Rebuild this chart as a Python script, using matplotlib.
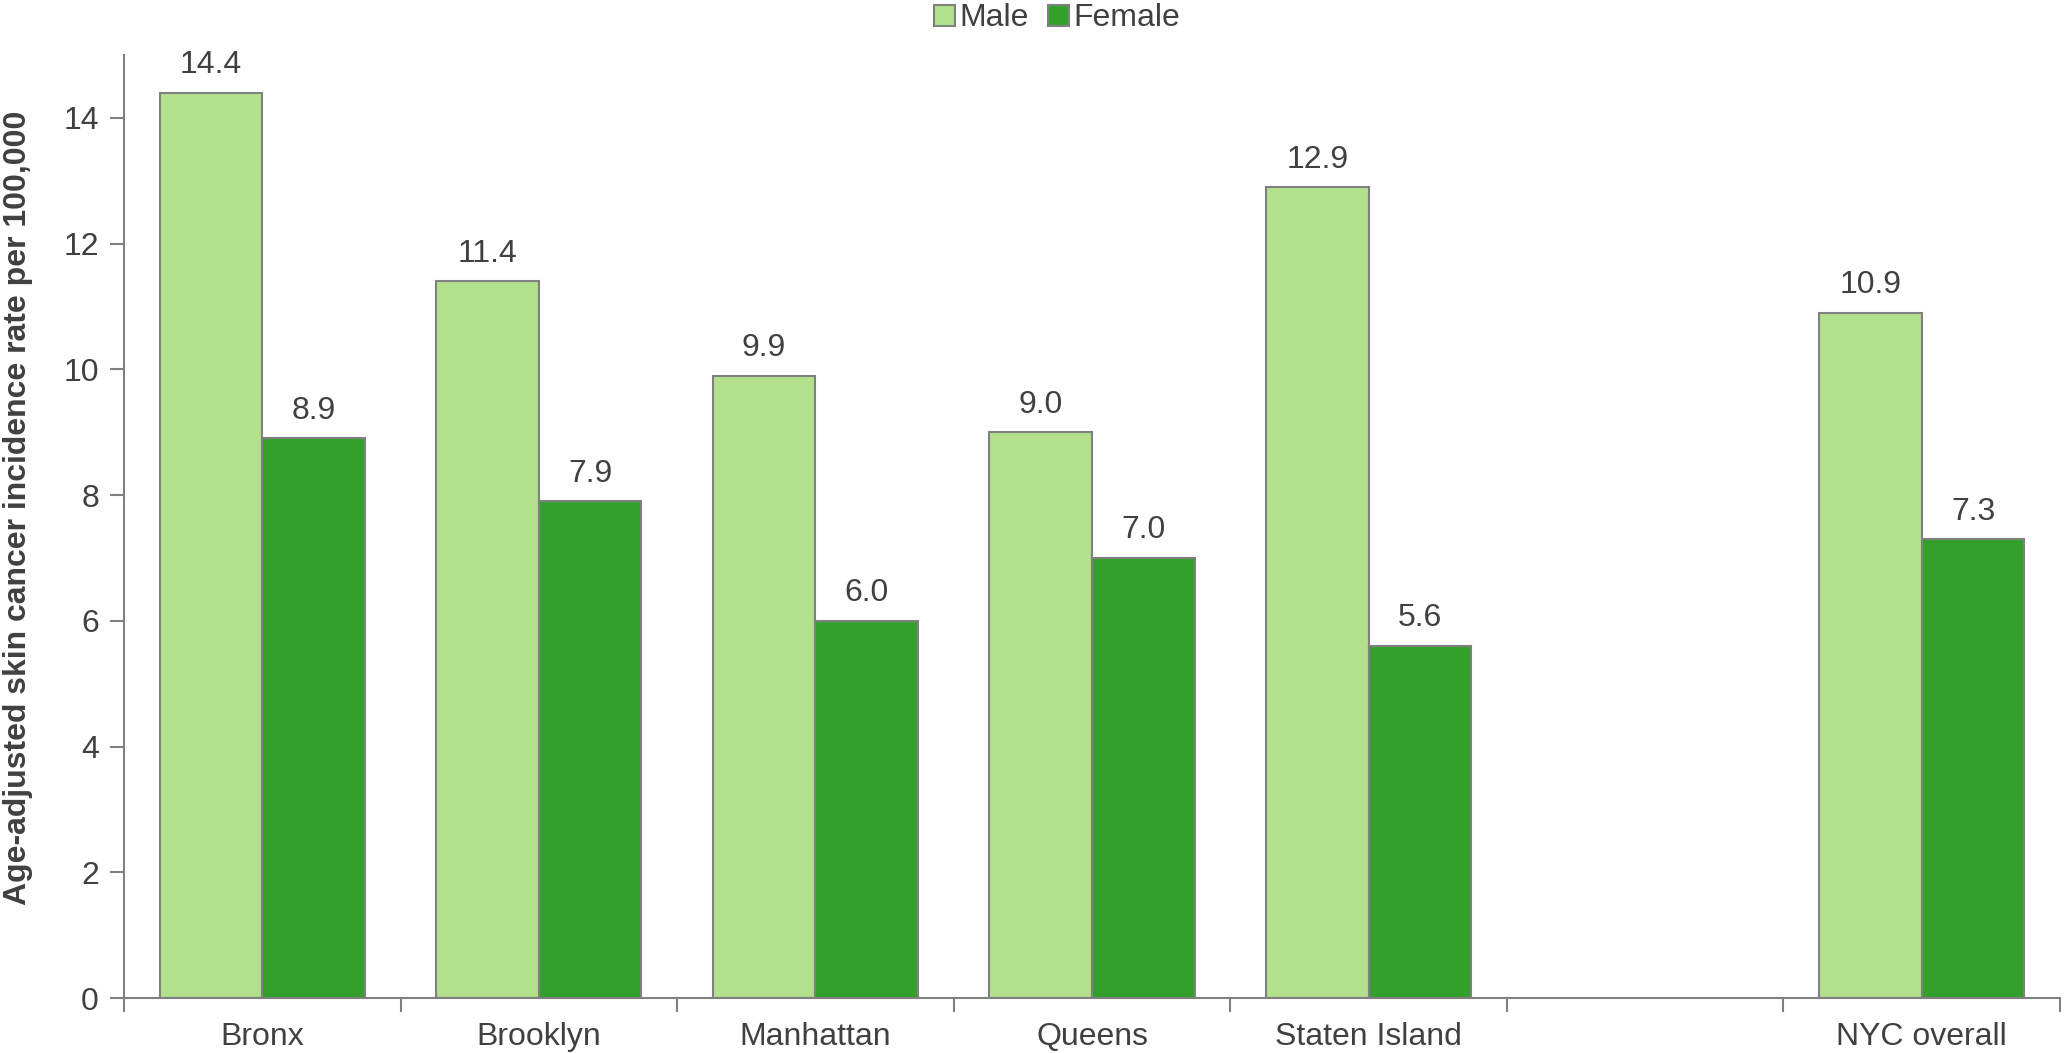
import numpy as np
import matplotlib.pyplot as plt

# Data
boroughs = ['Bronx', 'Brooklyn', 'Manhattan', 'Queens', 'Staten Island', '', 'NYC overall']
male = [14.4, 11.4, 9.9, 9.0, 12.9, None, 10.9]
female = [8.9, 7.9, 6.0, 7.0, 5.6, None, 7.3]

plt.rcParams['font.family'] = ['Liberation Sans', 'DejaVu Sans']
text_color = '#404040'
axis_color = '#808080'
fs = 23

fig = plt.figure(figsize=(20.65, 10.53), dpi=100)
ax = fig.add_axes([124 / 2065, 55 / 1053, 1936 / 2065, 943 / 1053])

x = np.arange(len(boroughs))
w = 0.371
idx = [i for i, v in enumerate(male) if v is not None]
m_vals = [male[i] for i in idx]
f_vals = [female[i] for i in idx]
xi = x[idx]

bm = ax.bar(xi - w / 2, m_vals, w, color='#b3e08d', edgecolor=axis_color, linewidth=1.5, label='Male')
bf = ax.bar(xi + w / 2, f_vals, w, color='#33a02c', edgecolor=axis_color, linewidth=1.5, label='Female')

for bars in (bm, bf):
    ax.bar_label(bars, fmt='%.1f', padding=9, fontsize=fs, color=text_color)

ax.set_xlim(-0.5, len(boroughs) - 0.5)
ax.set_ylim(0, 15)
ax.set_yticks(np.arange(0, 15, 2))

# category labels centred, ticks on boundaries
ax.set_xticks(x)
ax.set_xticklabels(boroughs)
ax.set_xticks(np.arange(-0.5, len(boroughs), 1), minor=True)
ax.tick_params(axis='x', which='major', length=0, pad=17, labelsize=fs, labelcolor=text_color)
ax.tick_params(axis='x', which='minor', length=10, width=1.5, color=axis_color, direction='out')
ax.tick_params(axis='y', length=10, width=1.5, color=axis_color, pad=8, labelsize=fs, labelcolor=text_color)

for s in ['top', 'right']:
    ax.spines[s].set_visible(False)
for s in ['left', 'bottom']:
    ax.spines[s].set_color(axis_color)
    ax.spines[s].set_linewidth(1.5)

ax.set_ylabel('Age-adjusted skin cancer incidence rate per 100,000', fontsize=fs,
              fontweight='bold', color=text_color)
ax.yaxis.set_label_coords(-0.047, 0.52)

fig.legend(handles=[bm, bf], loc='upper center', bbox_to_anchor=(1057 / 2065, 1.024), ncol=2,
           frameon=False, fontsize=fs, handlelength=0.65, handleheight=0.65,
           handletextpad=0.15, columnspacing=0.6, labelcolor=text_color)

fig.savefig('out.png', dpi=100)
